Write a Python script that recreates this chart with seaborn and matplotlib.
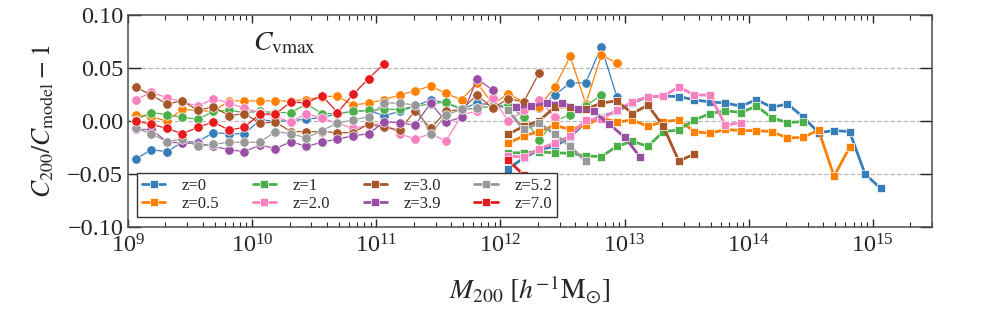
import numpy as np
import pandas as pd
import matplotlib
matplotlib.use("Agg")
import matplotlib.pyplot as plt
from matplotlib.lines import Line2D
import seaborn as sns

# ---------------- data ----------------
labels = ["z=0", "z=0.5", "z=1", "z=2.0", "z=3.0", "z=3.9", "z=5.2", "z=7.0"]
colors = ["#377eb8", "#ff7f00", "#4daf4a", "#f781bf", "#a65628", "#984ea3", "#999999", "#e41a1c"]

# log10 mass bin centres (0.125 dex bins)
circle_logm = np.arange(9.0625, 13.0, 0.125)
square_logm = np.arange(12.0625, 15.1, 0.125)
square_logm_z39 = np.arange(12.125, 13.2, 0.125)

# low-mass (circle) series
c_z0 = [-0.036, -0.027, -0.029, -0.020, -0.0195, -0.011, -0.012, -0.012, 0.001, 0.000,
        0.000, 0.002, 0.003, 0.007, 0.009, 0.010, 0.005, 0.009, 0.014, 0.020,
        0.017, 0.011, 0.017, 0.015, 0.012, 0.010, 0.012, 0.0245, 0.036, 0.036,
        0.070, 0.023]
c_z05 = [0.006, 0.004, 0.000, 0.011, 0.010, 0.009, 0.019, 0.019, 0.019, 0.019,
         0.019, 0.020, 0.023, 0.0235, 0.015, 0.017, 0.020, 0.0245, 0.0285, 0.033,
         0.026, 0.020, 0.036, 0.016, 0.0255, 0.018, 0.0135, 0.032, 0.061, 0.016,
         0.062, 0.055]
c_z1 = [0.001, 0.008, 0.006, 0.0035, 0.0016, 0.009, 0.010, 0.008, 0.009, 0.008,
        0.008, 0.016, 0.007, 0.007, 0.009, 0.010, 0.011, 0.011, 0.014, 0.016,
        0.018, 0.011, 0.012, 0.014, 0.015, 0.0035, -0.018, 0.000, 0.006, 0.014,
        0.0245]
c_z2 = [0.020, 0.027, 0.022, 0.018, 0.014, 0.021, 0.017, 0.012, 0.008, 0.004,
        -0.001, 0.007, 0.0025, -0.002, -0.007, -0.004, -0.002, -0.012, -0.017, -0.012,
        -0.019, 0.0057, 0.0095, 0.022, 0.000, 0.010, 0.020, 0.004]
c_z3 = [0.032, 0.0245, 0.016, 0.019, 0.010, 0.0135, 0.005, 0.007, -0.002, -0.001,
        -0.010, -0.010, -0.010, -0.011, -0.011, -0.003, -0.006, -0.0085, 0.0097, -0.007,
        0.009, 0.011, 0.0245, 0.012, 0.021, 0.018, 0.0455]
c_z39 = [-0.008, -0.008, -0.0195, -0.021, -0.021, -0.024, -0.027, -0.029, -0.0226, -0.026,
         -0.0195, -0.024, -0.020, -0.017, -0.014, -0.012, -0.001, -0.0015, -0.004, 0.017,
         -0.001, 0.0035, 0.040, 0.029]
c_z52 = [-0.007, -0.012, -0.0195, -0.017, -0.024, -0.022, -0.020, -0.020, -0.020, -0.010,
         -0.012, -0.016, -0.009, -0.002, 0.001, 0.004, 0.017, 0.017, 0.015, -0.012,
         0.0057, 0.011, 0.012]
c_z7 = [0.000, -0.003, -0.007, -0.012, -0.006, -0.001, -0.0085, -0.006, 0.0066, 0.0066,
        0.018, 0.017, 0.024, 0.008, 0.025, 0.040, 0.054]

# high-mass (square) series
s_z0 = [-0.045, -0.035, -0.027, -0.024, -0.015, -0.001, 0.004, 0.009, 0.017, 0.023,
        0.0235, 0.023, 0.020, 0.018, 0.017, 0.014, 0.020, 0.013, 0.016, 0.004,
        -0.011, -0.009, -0.010, -0.050, -0.0635]
s_z05 = [-0.021, -0.014, -0.010, -0.004, -0.008, -0.004, 0.003, -0.001, 0.001, -0.005,
         -0.0006, 0.001, -0.010, -0.0116, -0.008, -0.009, -0.009, -0.010, -0.016, -0.0155,
         -0.0085, -0.052, -0.025]
s_z1 = [-0.030, -0.030, -0.029, -0.030, -0.0305, -0.033, -0.0335, -0.024, -0.019, -0.024,
        -0.010, -0.0085, 0.001, 0.007, 0.0097, 0.008, 0.014, 0.003, -0.0015, -0.0006]
s_z2 = [-0.033, -0.034, -0.026, -0.021, -0.014, 0.001, 0.002, 0.010, 0.018, 0.023,
        0.0235, 0.032, 0.0245, 0.0245, -0.004, -0.0015]
s_z3 = [-0.0125, -0.005, 0.0003, 0.013, 0.0135, 0.011, 0.017, 0.019, 0.007, 0.015,
        -0.005, -0.038, -0.031]
s_z39 = [0.013, 0.014, 0.017, 0.017, 0.011, 0.009, -0.003, -0.015, -0.034]
s_z52 = [0.010, -0.008, -0.002, -0.0125, -0.024, -0.038]
s_z7 = [-0.037, -0.051]

x_major_ticks = [1e9, 1e10, 1e11, 1e12, 1e13, 1e14, 1e15]
y_ticks = [-0.10, -0.05, 0.0, 0.05, 0.10]
y_ticklabels = ["\u22120.10", "\u22120.05", "0.00", "0.05", "0.10"]

circle_series = [c_z0, c_z05, c_z1, c_z2, c_z3, c_z39, c_z52, c_z7]
square_series = [s_z0, s_z05, s_z1, s_z2, s_z3, s_z39, s_z52, s_z7]
square_grids = [square_logm] * 5 + [square_logm_z39] + [square_logm] * 2

# ---------------- style ----------------
sns.set_style("ticks")
plt.rcParams["font.family"] = ["Liberation Serif", "DejaVu Serif"]
plt.rcParams["mathtext.fontset"] = "stix"

fig = plt.figure(figsize=(9.81, 3.24), dpi=100)
ax = fig.add_axes([0.1305, 0.2994, 0.8196, 0.6543])

for yv in (-0.05, 0.0, 0.05):
    ax.axhline(yv, color="0.72", ls="--", lw=0.9, zorder=0)

for vals, c in zip(circle_series, colors):
    x = 10 ** circle_logm[:len(vals)]
    sns.lineplot(x=x, y=vals, ax=ax, color=c, marker="o", markersize=6.8,
                 lw=0.9, mec="w", mew=0.5, legend=False, sort=False)

for vals, grid, c in zip(square_series, square_grids, colors):
    x = 10 ** grid[:len(vals)]
    sns.lineplot(x=x, y=vals, ax=ax, color=c, marker="s", markersize=6,
                 lw=2.0, mec="w", mew=0.5, legend=False, sort=False)

ax.set_xscale("log")
ax.set_xlim(1e9, 3e15)
ax.set_xticks(x_major_ticks)
ax.set_ylim(-0.1, 0.1)
ax.set_yticks(y_ticks)
ax.set_yticklabels(y_ticklabels)

ax.tick_params(which="both", direction="in", top=True, right=True, labelsize=17.5)
ax.tick_params(axis="y", which="major", length=9, width=1.0)
ax.tick_params(axis="x", which="major", length=6, width=1.0)
ax.tick_params(axis="x", which="minor", length=3.5, width=0.8)
ax.tick_params(axis="x", pad=5)
for sp in ax.spines.values():
    sp.set_color("0.3")
    sp.set_linewidth(1.1)

ax.set_xlabel(r"$M_{200}\ [h^{-1}\mathrm{M}_{\odot}]$", fontsize=20, labelpad=12)
ax.set_ylabel(r"$C_{200}/C_{\rm model}-1$", fontsize=18.5, labelpad=8)

ax.text(0.155, 0.865, r"$C_{\rm vmax}$", transform=ax.transAxes, fontsize=20,
        va="center", ha="left")

handles = [Line2D([0], [0], color=c, lw=2, marker="s", markersize=6, mec="w", mew=0.5)
           for c in colors]
leg = ax.legend(handles, labels, ncol=4, loc="lower left",
                bbox_to_anchor=(0.011, 0.047), borderaxespad=0, fontsize=12,
                handlelength=1.4, handletextpad=1.0, columnspacing=2.0,
                labelspacing=0.15, borderpad=0.3, fancybox=False, framealpha=1)
leg.get_frame().set_edgecolor("0.2")
leg.get_frame().set_linewidth(1.0)

fig.savefig("out.png", dpi=100)
